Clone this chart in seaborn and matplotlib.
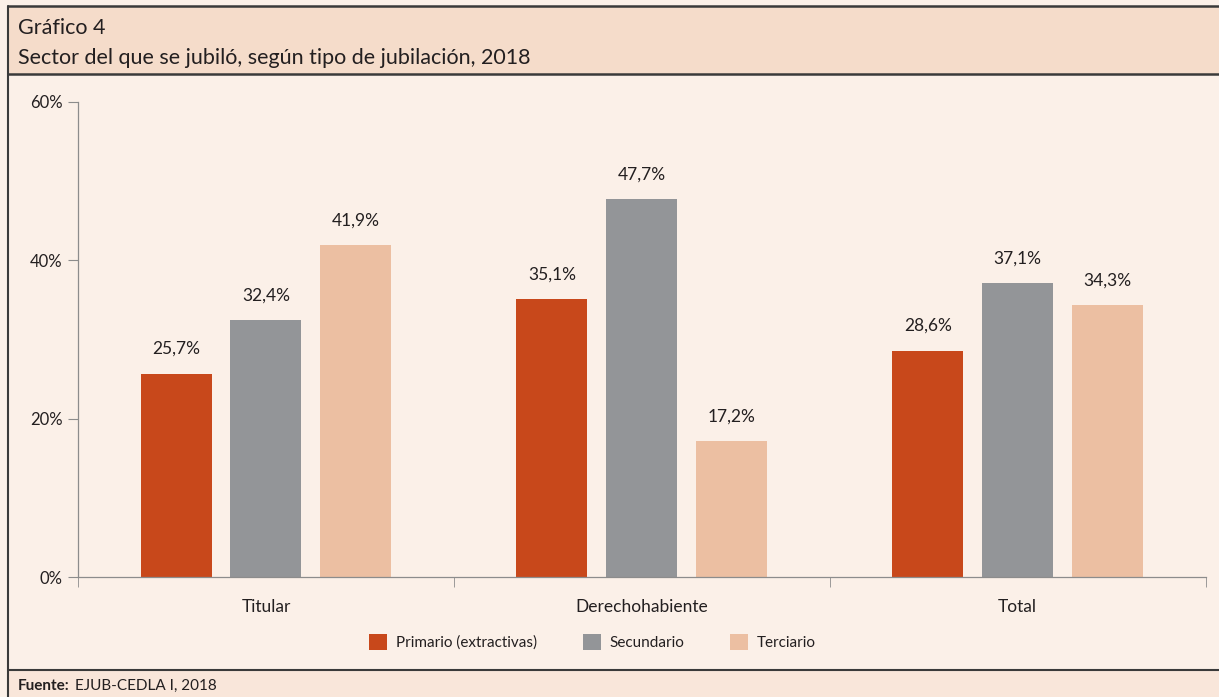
import pandas as pd
import seaborn as sns
import matplotlib.pyplot as plt
from matplotlib.patches import Rectangle
from matplotlib.lines import Line2D

# Data
categories = ["Titular", "Derechohabiente", "Total"]
sectors = ["Primario (extractivas)", "Secundario", "Terciario"]
primario = [25.7, 35.1, 28.6]
secundario = [32.4, 47.7, 37.1]
terciario = [41.9, 17.2, 34.3]
colors = ["#c8481b", "#939598", "#ecbfa2"]

df = pd.DataFrame({
    "Tipo": categories * 3,
    "Sector": [sectors[0]] * 3 + [sectors[1]] * 3 + [sectors[2]] * 3,
    "Valor": primario + secundario + terciario,
})

sns.set_style("white")
plt.rcParams["font.family"] = ["Lato", "DejaVu Sans"]

body_bg = "#fbf0e8"
txt = "#231f20"
fig = plt.figure(figsize=(12.19, 6.97), dpi=100, facecolor=body_bg)

# header band
fig.add_artist(Rectangle((0.0066, 0.8938), 1.0, 0.0976, transform=fig.transFigure,
                         facecolor="#f5dcca", edgecolor="none", zorder=0))
fig.add_artist(Line2D([0.0066, 1], [0.9914, 0.9914], transform=fig.transFigure, color="#3a3a3a", lw=1.8))
fig.add_artist(Line2D([0.0066, 1], [0.8938, 0.8938], transform=fig.transFigure, color="#3a3a3a", lw=1.8))
# footer band
fig.add_artist(Rectangle((0.0066, 0), 1.0, 0.0387, transform=fig.transFigure,
                         facecolor="#f9e6da", edgecolor="none", zorder=0))
fig.add_artist(Line2D([0.0066, 1], [0.0387, 0.0387], transform=fig.transFigure, color="#3a3a3a", lw=1.5))
# left border
fig.add_artist(Line2D([0.0066, 0.0066], [0, 0.9914], transform=fig.transFigure, color="#3a3a3a", lw=1.5))

fig.text(0.0148, 0.960, "Gráfico 4", fontsize=15.5, color=txt, va="center")
fig.text(0.0148, 0.917, "Sector del que se jubiló, según tipo de jubilación, 2018",
         fontsize=15.5, color=txt, va="center")
fuente = fig.text(0.0148, 0.016, "Fuente:", fontsize=11, fontweight="bold", color=txt, va="center")
fig.canvas.draw()
ext = fuente.get_window_extent()
fig.text((ext.x1 + 5) / fig.bbox.width, 0.016, "EJUB-CEDLA I, 2018", fontsize=11, color=txt, va="center")

ax = fig.add_axes([0.064, 0.172, 0.925, 0.682])
ax.set_facecolor(body_bg)
sns.barplot(data=df, x="Tipo", y="Valor", hue="Sector", palette=colors,
            width=0.717, gap=0.21, saturation=1, linewidth=0, ax=ax, legend=False)

for cont, vals in zip(ax.containers, [primario, secundario, terciario]):
    ax.bar_label(cont, labels=[f"{v:.1f}%".replace(".", ",") for v in vals],
                 padding=12, fontsize=12.5, color=txt)

ax.set_ylim(0, 60)
ax.set_xlim(-0.5, 2.5)
ax.set_yticks([0, 20, 40, 60])
ax.set_yticklabels(["0%", "20%", "40%", "60%"])
ax.set_xticks([-0.5, 0.5, 1.5, 2.5], minor=True)
ax.tick_params(axis="x", which="major", length=0, pad=16, labelsize=12.5, labelcolor=txt)
ax.tick_params(axis="x", which="minor", length=7, direction="out", color="#8c8c8c", bottom=True)
ax.tick_params(axis="y", length=7, direction="out", color="#8c8c8c", left=True,
               pad=4, labelsize=12, labelcolor=txt)
ax.set_xlabel("")
ax.set_ylabel("")
for s in ["top", "right"]:
    ax.spines[s].set_visible(False)
for s in ["left", "bottom"]:
    ax.spines[s].set_color("#8c8c8c")
    ax.spines[s].set_linewidth(0.9)

handles = [Rectangle((0, 0), 1, 1, facecolor=c, edgecolor="none") for c in colors]
fig.legend(handles, sectors, loc="center", bbox_to_anchor=(0.486, 0.079), ncol=3,
           frameon=False, fontsize=11, handlelength=1.2, handleheight=1.2,
           columnspacing=3.0, handletextpad=0.55, labelcolor=txt)

fig.savefig("out.png", dpi=100, facecolor=body_bg)
